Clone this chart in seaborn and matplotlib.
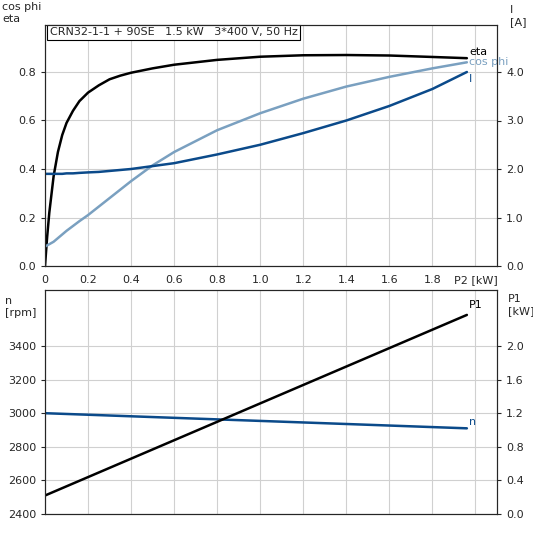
import numpy as np
import matplotlib
matplotlib.use("Agg")
import matplotlib.pyplot as plt
import seaborn as sns

sns.set_style("white")
plt.rcParams['font.family'] = ['DejaVu Sans']

p2 = [0.0, 0.01, 0.02, 0.04, 0.06, 0.08, 0.1, 0.13, 0.16, 0.2, 0.25, 0.3, 0.35, 0.4, 0.5, 0.6, 0.8, 1.0, 1.2, 1.4, 1.6, 1.8, 1.96]
eta = [0.0, 0.12, 0.22, 0.37, 0.47, 0.54, 0.59, 0.64, 0.68, 0.715, 0.745, 0.77, 0.785, 0.797, 0.815, 0.83, 0.85, 0.863, 0.869, 0.87, 0.868, 0.862, 0.857]
cosphi = [0.08, 0.085, 0.09, 0.10, 0.115, 0.13, 0.145, 0.165, 0.185, 0.21, 0.245, 0.28, 0.315, 0.35, 0.415, 0.47, 0.56, 0.63, 0.69, 0.74, 0.78, 0.815, 0.84]
cur = [1.9, 1.9, 1.9, 1.9, 1.9, 1.9, 1.91, 1.91, 1.92, 1.93, 1.94, 1.96, 1.98, 2.0, 2.06, 2.12, 2.3, 2.5, 2.74, 3.0, 3.3, 3.65, 4.0]
p2b = [0.0, 1.96]
speed = [3000, 2910]
p1 = [0.22, 2.37]

c_eta, c_cos, c_i = "black", "#7aa0c0", "#0b4a8a"

fig = plt.figure(figsize=(5.33, 5.33), dpi=100)
ax1 = fig.add_axes([45/533, 1-266/533, 452/533, 241/533])
ax2 = fig.add_axes([45/533, 1-514/533, 452/533, 224/533])

sns.lineplot(x=p2, y=eta, ax=ax1, color=c_eta, lw=1.8)
sns.lineplot(x=p2, y=cosphi, ax=ax1, color=c_cos, lw=1.8)
ax1b = ax1.twinx()
sns.lineplot(x=p2, y=cur, ax=ax1b, color=c_i, lw=1.8)
ax1.set_xlim(0, 2.1); ax1.set_ylim(0, 0.8*241/194)
ax1b.set_ylim(0, 4.0*241/194)
ax1.set_xticks(np.arange(0, 2.01, 0.2))
ax1.set_xticklabels(["0"] + [f"{v:.1f}" for v in np.arange(0.2, 1.81, 0.2)] + ["P2 [kW]"])
ax1.set_yticks(np.arange(0, 0.81, 0.2)); ax1b.set_yticks(np.arange(0, 4.01, 1.0))
ax1.set_yticklabels(["0.0", "0.2", "0.4", "0.6", "0.8"])
ax1b.set_yticklabels(["0.0", "1.0", "2.0", "3.0", "4.0"])
ax1.grid(True, color="#d0d0d0", lw=0.8)
ax1.text(1.97, 0.87, "eta", fontsize=8, color=c_eta)
ax1.text(1.97, 0.83, "cos phi", fontsize=8, color=c_cos)
ax1b.text(1.97, 3.8, "I", fontsize=8, color=c_i)

sns.lineplot(x=p2b, y=speed, ax=ax2, color=c_i, lw=1.8)
ax2b = ax2.twinx()
sns.lineplot(x=p2b, y=p1, ax=ax2b, color="black", lw=1.8)
ax2.set_xlim(0, 2.1); ax2.set_ylim(2400, 2400 + 200*224/33.6)
ax2b.set_ylim(0, 0.4*224/33.6)
ax2.set_xticks(np.arange(0, 2.01, 0.2)); ax2.set_xticklabels([])
ax2.set_yticks(np.arange(2400, 3401, 200)); ax2b.set_yticks(np.arange(0, 2.01, 0.4))
ax2b.set_yticklabels(["0.0", "0.4", "0.8", "1.2", "1.6", "2.0"])
ax2.grid(True, color="#d0d0d0", lw=0.8)
ax2.text(1.97, 2930, "n", fontsize=8, color=c_i)
ax2b.text(1.97, 2.45, "P1", fontsize=8, color="black")

for a in (ax1, ax1b, ax2, ax2b):
    a.tick_params(labelsize=8, length=3)
    a.set_ylabel(""); a.set_xlabel("")
fig.text(2/533, 1-2/533, "cos phi\neta", fontsize=8, va="top")
fig.text(510/533, 1-5/533, "I\n[A]", fontsize=8, va="top")
fig.text(5/533, 1-296/533, "n\n[rpm]", fontsize=8, va="top")
fig.text(508/533, 1-294/533, "P1\n[kW]", fontsize=8, va="top")
ax1.text(0.01, 0.99, "CRN32-1-1 + 90SE   1.5 kW   3*400 V, 50 Hz", transform=ax1.transAxes,
         fontsize=8, va="top", bbox=dict(facecolor="white", edgecolor="black", lw=0.8, pad=2))
fig.savefig("out.png", dpi=100)
